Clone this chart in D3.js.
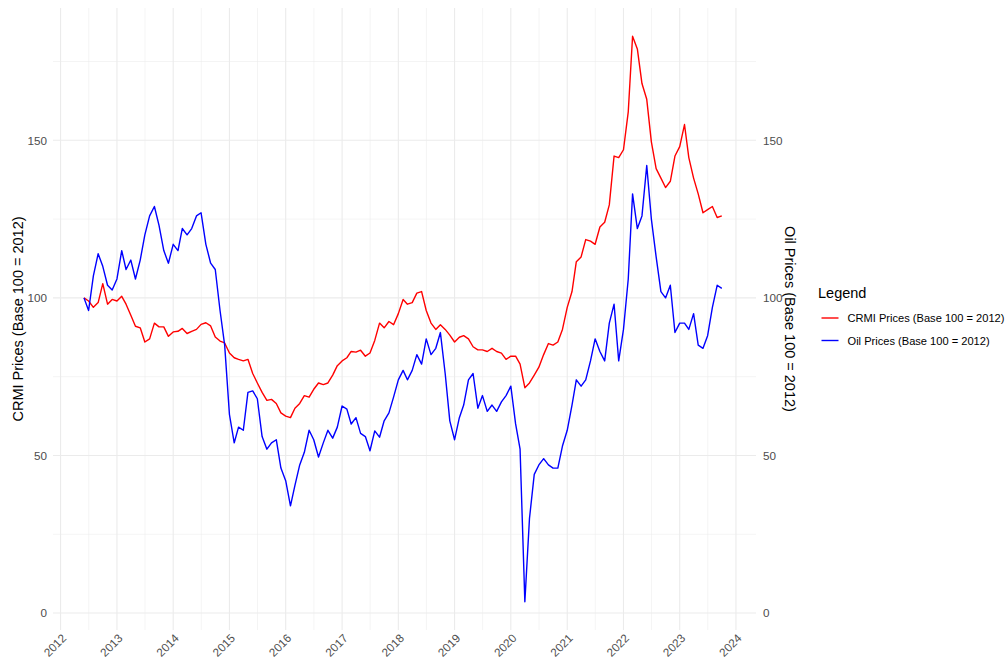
<!DOCTYPE html>
<html>
<head>
<meta charset="utf-8">
<script src="https://cdn.jsdelivr.net/npm/d3@7/dist/d3.min.js"></script>
<style>
body { margin: 0; background: #fff; }
text { font-family: "Liberation Sans", Arial, Helvetica, sans-serif; }
</style>
</head>
<body>
<div id="chart"></div>
<script>
// monthly grid, first and last month of the series
var startMonth = "2012-06";
var endMonth = "2023-10";

// CRMI index, base 100 = 2012 (one value per month)
var crmiValues = [
  100, 99, 97, 98.5, 104.5, 98, 99.5,                                  // 2012 jun-dec
  99, 100.5, 98, 94.5, 91, 90.5, 86, 87, 92, 90.8, 90.8, 87.8,          // 2013
  89.2, 89.4, 90.3, 88.7, 89.4, 90, 91.6, 92.1, 91.1, 87.6, 86.3, 85.7, // 2014
  82.5, 81, 80.5, 80, 80.5, 76, 73, 70, 67.5, 67.8, 66.5, 63.5,         // 2015
  62.5, 62, 65, 66.5, 69, 68.5, 71, 73, 72.5, 73, 75.5, 78.5,           // 2016
  80, 81, 83, 82.8, 83.4, 81.5, 82.5, 86.5, 92, 90.5, 92.5, 91.5,       // 2017
  95, 99.5, 98, 98.5, 101.5, 102, 96, 92, 90, 91.5, 90, 88.2,           // 2018
  86, 87.5, 88, 87, 84.5, 83.5, 83.5, 83, 84, 83, 82.5, 80.5,           // 2019
  81.5, 81.5, 79, 71.5, 73, 75.5, 78, 82, 85.5, 85, 86, 90,             // 2020
  97, 102, 111.5, 113, 118.5, 118, 117, 122.5, 124, 129.5, 145, 144.5,  // 2021
  147, 159, 183, 179, 168, 163, 149.5, 141, 138, 135, 137, 145,         // 2022
  148, 155, 144.5, 138, 133, 127, 128, 129, 125.5, 126                  // 2023 jan-oct
];

// Oil index, base 100 = 2012
var oilValues = [
  100, 96, 107, 114, 110, 104, 102.5,                                   // 2012 jun-dec
  106, 115, 109, 112, 106, 112, 120, 126, 129, 123, 115, 111,           // 2013
  117, 115, 122, 120, 122, 126, 127, 117, 111, 109, 96, 85,             // 2014
  63, 54, 59, 58, 70, 70.5, 68, 56, 52, 54, 55, 46,                     // 2015
  42, 34, 40.5, 47, 51, 58, 55, 49.5, 54, 58, 55.5, 59,                 // 2016
  65.7, 64.7, 60, 62, 57, 56, 51.5, 57.8, 55.8, 61, 63.5, 68.5,         // 2017
  74, 77, 74, 77, 82, 79, 87, 82, 84, 89, 76, 61,                       // 2018
  55, 62, 66, 74, 76, 65, 69, 64, 66, 64, 67, 69,                       // 2019
  72, 60, 52, 3.6, 30, 44, 47, 49, 47, 46, 46, 53,                      // 2020
  58, 66, 74, 72, 74, 80, 87, 83, 80, 92, 98, 80,                       // 2021
  90, 106, 133, 122, 126, 142, 125, 113, 102, 100, 104, 89,             // 2022
  92, 92, 90, 95, 85, 84, 88, 97, 104, 103                              // 2023 jan-oct
];

var yearTicks = [2012, 2013, 2014, 2015, 2016, 2017, 2018, 2019, 2020, 2021, 2022, 2023, 2024];
var yTicks = [0, 50, 100, 150];
var yMinorTicks = [25, 75, 125, 175];
var seriesNames = ["CRMI Prices (Base 100 = 2012)", "Oil Prices (Base 100 = 2012)"];
var seriesColors = ["red", "blue"];

var width = 1008, height = 664;
var panel = {left: 53, right: 756, top: 8, bottom: 630};

var svg = d3.select("#chart").append("svg")
    .attr("width", width)
    .attr("height", height);

var parseMonth = d3.timeParse("%Y-%m");
var months = d3.timeMonth.range(parseMonth(startMonth), d3.timeMonth.offset(parseMonth(endMonth), 1));

var series = [crmiValues, oilValues].map(function (vals, i) {
    return {
        name: seriesNames[i],
        color: seriesColors[i],
        values: vals.map(function (v, j) { return {date: months[j], value: v}; })
    };
});

// x domain, padded like ggplot's default expansion
var x = d3.scaleTime()
    .domain([new Date(2011, 10, 13), new Date(2024, 4, 10)])
    .range([panel.left, panel.right]);

var allVals = crmiValues.concat(oilValues);
var yExt = d3.extent(allVals);
var yPad = (yExt[1] - yExt[0]) * 0.05;
var y = d3.scaleLinear()
    .domain([yExt[0] - yPad, yExt[1] + yPad])
    .range([panel.bottom, panel.top]);

var yearDates = yearTicks.map(function (yr) { return new Date(yr, 0, 1); });
var midYearDates = yearTicks.slice(0, -1).map(function (yr) { return new Date(yr, 6, 2); });

// grid
var grid = svg.append("g").attr("class", "grid");
grid.selectAll(".vminor").data(midYearDates).enter().append("line")
    .attr("x1", function (d) { return x(d); }).attr("x2", function (d) { return x(d); })
    .attr("y1", panel.top).attr("y2", panel.bottom)
    .attr("stroke", "#ebebeb").attr("stroke-width", 0.55);
grid.selectAll(".hminor").data(yMinorTicks).enter().append("line")
    .attr("x1", panel.left).attr("x2", panel.right)
    .attr("y1", function (d) { return y(d); }).attr("y2", function (d) { return y(d); })
    .attr("stroke", "#ebebeb").attr("stroke-width", 0.55);
grid.selectAll(".vmajor").data(yearDates).enter().append("line")
    .attr("x1", function (d) { return x(d); }).attr("x2", function (d) { return x(d); })
    .attr("y1", panel.top).attr("y2", panel.bottom)
    .attr("stroke", "#ebebeb").attr("stroke-width", 1.1);
grid.selectAll(".hmajor").data(yTicks).enter().append("line")
    .attr("x1", panel.left).attr("x2", panel.right)
    .attr("y1", function (d) { return y(d); }).attr("y2", function (d) { return y(d); })
    .attr("stroke", "#ebebeb").attr("stroke-width", 1.1);

// lines
var line = d3.line()
    .x(function (d) { return x(d.date); })
    .y(function (d) { return y(d.value); });

svg.append("g").attr("class", "lines")
    .selectAll("path")
    .data(series)
    .enter().append("path")
    .attr("fill", "none")
    .attr("stroke", function (d) { return d.color; })
    .attr("stroke-width", 1.4)
    .attr("stroke-linejoin", "round")
    .attr("d", function (d) { return line(d.values); });

// axes (no ticks, no domain line)
var xAxis = svg.append("g")
    .attr("transform", "translate(0," + panel.bottom + ")")
    .call(d3.axisBottom(x).tickValues(yearDates).tickFormat(d3.timeFormat("%Y")).tickSize(0));
xAxis.selectAll("text")
    .attr("x", 0).attr("y", 0).attr("dy", null)
    .attr("transform", "translate(6,9) rotate(-45)")
    .style("text-anchor", "end");

var yLeft = svg.append("g")
    .attr("transform", "translate(" + panel.left + ",0)")
    .call(d3.axisLeft(y).tickValues(yTicks).tickSize(0).tickPadding(6));

var yRight = svg.append("g")
    .attr("transform", "translate(" + panel.right + ",0)")
    .call(d3.axisRight(y).tickValues(yTicks).tickSize(0).tickPadding(7));

[xAxis, yLeft, yRight].forEach(function (ax) {
    ax.select(".domain").remove();
    ax.selectAll("text")
        .attr("fill", "#4d4d4d")
        .style("font-size", "11.7px")
        .style("font-family", '"Liberation Sans", Arial, sans-serif');
});

// axis titles
var yMid = (panel.top + panel.bottom) / 2;
svg.append("text")
    .attr("transform", "translate(23," + yMid + ") rotate(-90)")
    .attr("text-anchor", "middle")
    .style("font-size", "14.5px")
    .text(seriesNames[0]);
svg.append("text")
    .attr("transform", "translate(785," + yMid + ") rotate(90)")
    .attr("text-anchor", "middle")
    .style("font-size", "14.5px")
    .text(seriesNames[1]);

// legend
var legend = svg.append("g").attr("transform", "translate(818,0)");
legend.append("text")
    .attr("x", 0).attr("y", 298)
    .style("font-size", "14.5px")
    .text("Legend");
var items = legend.selectAll(".item")
    .data(series)
    .enter().append("g")
    .attr("transform", function (d, i) { return "translate(0," + (318 + i * 22.5) + ")"; });
items.append("line")
    .attr("x1", 3.5).attr("x2", 20.5)
    .attr("stroke", function (d) { return d.color; })
    .attr("stroke-width", 1.4);
items.append("text")
    .attr("x", 29.5).attr("y", 4)
    .style("font-size", "11.1px")
    .text(function (d) { return d.name; });
</script>
</body>
</html>
